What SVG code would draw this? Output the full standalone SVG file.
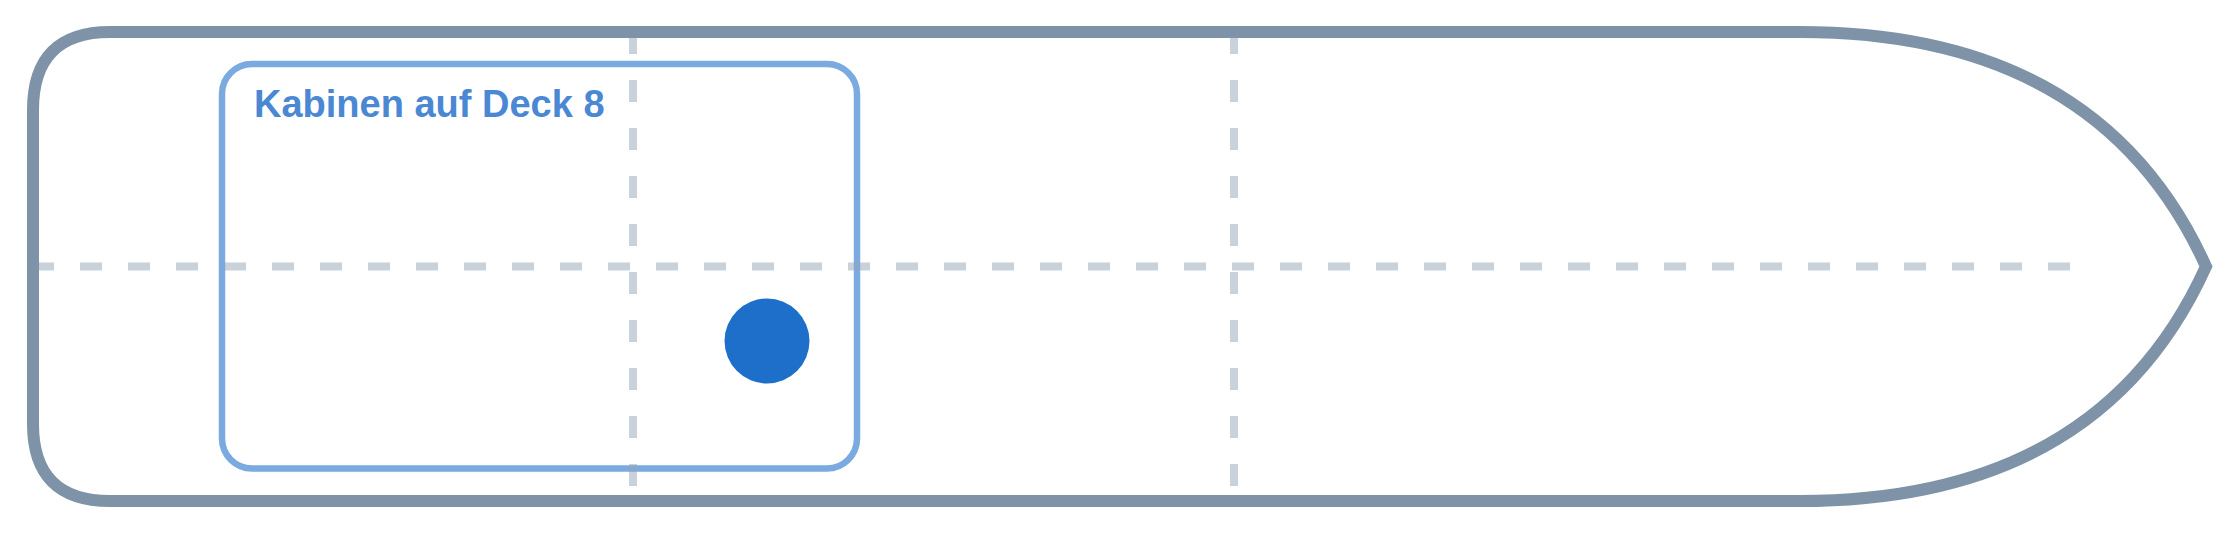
<svg xmlns="http://www.w3.org/2000/svg" width="2240" height="533" viewBox="0 0 2240 533">
  <style>
    .hull { fill: none; stroke: #7f93a8; stroke-width: 12; stroke-linejoin: miter; }
    .cabin { fill: none; stroke: #7aaae0; stroke-width: 6.5; }
    .grid { stroke: #94a3b8; stroke-opacity: 0.5; stroke-width: 8; stroke-dasharray: 22 26; fill: none; }
    .label { font-family: "Liberation Sans", Arial, sans-serif; font-weight: bold; font-size: 38px; fill: #4a88d4; }
    .dot { fill: #1d6fc9; }
  </style>
  <rect width="2240" height="533" fill="#ffffff"/>
  <g id="cabins">
    <rect class="cabin" x="222" y="64" width="635" height="404.5" rx="30" ry="30"/>
    <text class="label" x="254" y="117.3">Kabinen auf Deck 8</text>
  </g>
  <g id="connectors">
    <line class="grid" x1="32" y1="266.5" x2="2075" y2="266.5"/>
    <line class="grid" x1="633" y1="32" x2="633" y2="501"/>
    <line class="grid" x1="1234" y1="32" x2="1234" y2="501"/>
  </g>
  <g id="hull">
    <path class="hull" d="M 110 32 L 1800 32 Q 2100 32 2206 266.5 Q 2100 501 1800 501 L 110 501 Q 33 501 33 424 L 33 110 Q 33 32 110 32 Z"/>
  </g>
  <g id="position">
    <circle class="dot" cx="767" cy="341" r="42.5"/>
  </g>
</svg>
